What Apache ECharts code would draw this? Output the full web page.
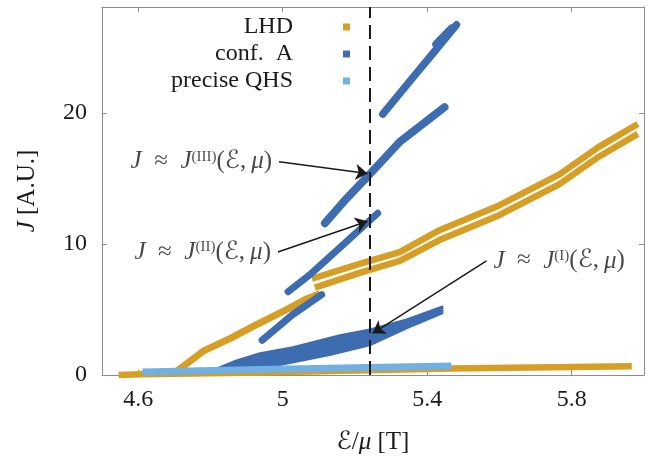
<!DOCTYPE html>
<html>
<head>
<meta charset="utf-8">
<script src="https://cdn.jsdelivr.net/npm/echarts/dist/echarts.min.js"></script>
<style>
  html, body { margin: 0; padding: 0; background: #fff; }
  #chart { width: 649px; height: 460px; }
</style>
</head>
<body>
<div id="chart"></div>
<script>
const SERIF = "'Liberation Serif','DejaVu Serif','DejaVu Sans',serif";
const GOLD = '#D69E25', BLUE = '#3D6CB1', SKY = '#70B0E3', AXIS = '#8c8c8c', INK = '#1a1a1a';

// axis ticks
const xTicks = [4.6, 5, 5.4, 5.8];
const yTicks = [0, 10, 20];
const seriesNames = ['LHD', 'conf.  A', 'precise QHS'];

// LHD branches (E/mu [T], J [A.U.])
const lhdFlat  = [[4.546, 0], [4.612, 0.05], [4.937, 0.2], [5.467, 0.5], [5.966, 0.66]];
const lhdStair = [[4.705, 0.25], [4.780, 1.82], [4.855, 2.80], [4.929, 3.86], [5.001, 4.85], [5.067, 5.83], [5.103, 6.21]];
const lhdUpper = [[5.081, 7.35], [5.213, 8.48], [5.324, 9.39], [5.434, 11.06], [5.599, 12.95], [5.765, 15.30], [5.875, 17.42], [5.983, 19.17]];
const lhdLower = [[5.089, 6.67], [5.213, 7.80], [5.324, 8.71], [5.434, 10.30], [5.599, 12.20], [5.765, 14.55], [5.875, 16.67], [5.983, 18.41]];

// conf. A branches
const confTop    = [[5.277, 19.92], [5.351, 22.41], [5.415, 24.53], [5.481, 26.74]];
const confTopTip = [[5.425, 25.25], [5.467, 26.45]];
const confIII    = [[5.117, 11.59], [5.177, 13.48], [5.235, 15.15], [5.324, 17.80], [5.448, 20.45]];
const confII     = [[5.015, 6.36], [5.075, 7.65], [5.166, 9.92], [5.263, 12.35]];
const confMid    = [[4.943, 2.65], [5.028, 4.62], [5.108, 6.14]];
const confIUpper = [[4.772, 0], [4.808, 0.38], [4.870, 1.10], [4.937, 1.67], [5.028, 2.12], [5.158, 3.03], [5.241, 3.48], [5.343, 4.24], [5.442, 5.23]];
const confILower = [[5.442, 4.70], [5.343, 3.56], [5.241, 2.27], [5.130, 1.52], [5.020, 0.91], [4.937, 0.45], [4.855, 0.08], [4.772, 0]];

// precise QHS branch
const qhsFlat = [[4.612, 0.23], [4.937, 0.42], [5.467, 0.68]];

// annotations
const dashedE = 5.24;
const arrowFrom = [[4.990, 16.29], [4.987, 9.39], [5.564, 8.71]];
const arrowTo   = [[5.235, 15.38], [5.235, 11.74], [5.249, 3.18]];
const arrowTags = ['III', 'II', 'I'];
const tagSide   = ['left', 'left', 'right'];

function band(name, color, data, width, cap) {
  return {
    type: 'line', name, data, color, symbol: 'none', showSymbol: false,
    clip: false, silent: true, animation: false,
    lineStyle: { color, width, cap: cap || 'butt', join: 'round' }
  };
}

function wedge(name, color, upper, lower) {
  const outline = upper.concat(lower);
  return {
    type: 'custom', name, color, data: outline, clip: false, silent: true, animation: false,
    itemStyle: { color },
    renderItem(params, api) {
      if (params.dataIndex !== 0) return null;
      const pts = outline.map(p => api.coord(p));
      return {
        type: 'polygon', shape: { points: pts },
        style: { fill: color, stroke: color, lineWidth: 2, lineJoin: 'round' }
      };
    }
  };
}

const labelRich = {
  i: { fontFamily: SERIF, fontStyle: 'italic', fontSize: 25, color: INK },
  r: { fontFamily: SERIF, fontSize: 25, color: INK },
  s: { fontFamily: SERIF, fontSize: 15, color: INK, verticalAlign: 'top' }
};

const annotationPoints = arrowFrom.map((p, k) => ({
  value: p,
  label: {
    show: true,
    position: tagSide[k],
    distance: 7,
    formatter: '{i|J}{r|\u2002≈\u2002}{i|J}{s|(' + arrowTags[k] + ')}{r|(ℰ,\u2009}{i|μ}{r|)}',
    rich: labelRich
  }
}));

const series = [
  band(seriesNames[0], GOLD, lhdFlat, 6.5),
  band(seriesNames[0], GOLD, lhdStair, 7),
  band(seriesNames[0], GOLD, lhdLower, 6.5),
  band(seriesNames[0], GOLD, lhdUpper, 6.5),
  wedge(seriesNames[1], BLUE, confIUpper, confILower),
  band(seriesNames[1], BLUE, confMid, 7, 'round'),
  band(seriesNames[1], BLUE, confII, 7, 'round'),
  band(seriesNames[1], BLUE, confIII, 8, 'round'),
  band(seriesNames[1], BLUE, confTop, 7.5, 'round'),
  band(seriesNames[1], BLUE, confTopTip, 8, 'round'),
  band(seriesNames[2], SKY, qhsFlat, 7),
  {
    type: 'scatter', name: 'notes', data: annotationPoints, symbolSize: 0,
    silent: true, animation: false, z: 10,
    markLine: {
      silent: true, animation: false, symbol: ['none', 'arrow'], symbolSize: 12,
      label: { show: false },
      itemStyle: { color: INK },
      lineStyle: { color: INK, width: 1.5, type: 'solid' },
      data: arrowFrom.map((p, k) => [{ coord: p }, { coord: arrowTo[k] }])
    }
  },
  {
    type: 'line', name: 'marker', data: [], z: 9,
    markLine: {
      silent: true, animation: false, symbol: 'none',
      label: { show: false },
      lineStyle: { color: INK, width: 2, type: [14, 7] },
      data: [{ xAxis: dashedE }]
    }
  }
];

const tickStyle = { show: true, inside: true, length: 5, lineStyle: { color: AXIS, width: 1 } };
const lineStyle = { show: true, onZero: false, lineStyle: { color: AXIS, width: 1 } };
const tickFont = { fontFamily: SERIF, fontSize: 24, color: INK };

const chart = echarts.init(document.getElementById('chart'), null, { renderer: 'canvas' });
chart.setOption({
  animation: false,
  backgroundColor: '#fff',
  grid: { left: 102, right: 5, top: 7, bottom: 82 },
  legend: {
    data: seriesNames,
    orient: 'vertical', align: 'right', right: 299, top: 15, padding: 0,
    itemGap: 3, itemWidth: 7, itemHeight: 7, icon: 'rect', selectedMode: false,
    itemStyle: { borderWidth: 0 },
    lineStyle: { width: 0 },
    formatter: n => '{t|' + n + '}',
    textStyle: {
      fontFamily: SERIF, fontSize: 24, color: INK, lineHeight: 24,
      rich: { t: { fontFamily: SERIF, fontSize: 24, color: INK, lineHeight: 24, padding: [0, 45, 0, 0] } }
    }
  },
  xAxis: [
    {
      type: 'value', min: 4.5, max: 6.0, position: 'bottom',
      axisLine: lineStyle,
      axisTick: Object.assign({ customValues: xTicks }, tickStyle),
      axisLabel: Object.assign({ customValues: xTicks, margin: 13 }, tickFont),
      splitLine: { show: false },
      name: '{c|ℰ}{r|/}{i|μ}{r| [T]}', nameLocation: 'middle', nameGap: 55,
      nameTextStyle: {
        rich: {
          c: { fontFamily: SERIF, fontSize: 25, color: INK },
          i: { fontFamily: SERIF, fontStyle: 'italic', fontSize: 25, color: INK },
          r: { fontFamily: SERIF, fontSize: 25, color: INK }
        }
      }
    },
    {
      type: 'value', min: 4.5, max: 6.0, position: 'top',
      axisLine: lineStyle,
      axisTick: Object.assign({ customValues: xTicks }, tickStyle),
      axisLabel: { show: false }, splitLine: { show: false }
    }
  ],
  yAxis: [
    {
      type: 'value', min: 0, max: 28.1, position: 'left',
      axisLine: lineStyle,
      axisTick: Object.assign({ customValues: yTicks }, tickStyle),
      axisLabel: Object.assign({ customValues: yTicks, margin: 15 }, tickFont),
      splitLine: { show: false },
      name: '{i|J}{r| [A.U.]}', nameLocation: 'middle', nameGap: 62,
      nameTextStyle: {
        rich: {
          i: { fontFamily: SERIF, fontStyle: 'italic', fontSize: 25, color: INK },
          r: { fontFamily: SERIF, fontSize: 25, color: INK }
        }
      }
    },
    {
      type: 'value', min: 0, max: 28.1, position: 'right',
      axisLine: lineStyle,
      axisTick: Object.assign({ customValues: yTicks }, tickStyle),
      axisLabel: { show: false }, splitLine: { show: false }
    }
  ],
  series
});
</script>
</body>
</html>
